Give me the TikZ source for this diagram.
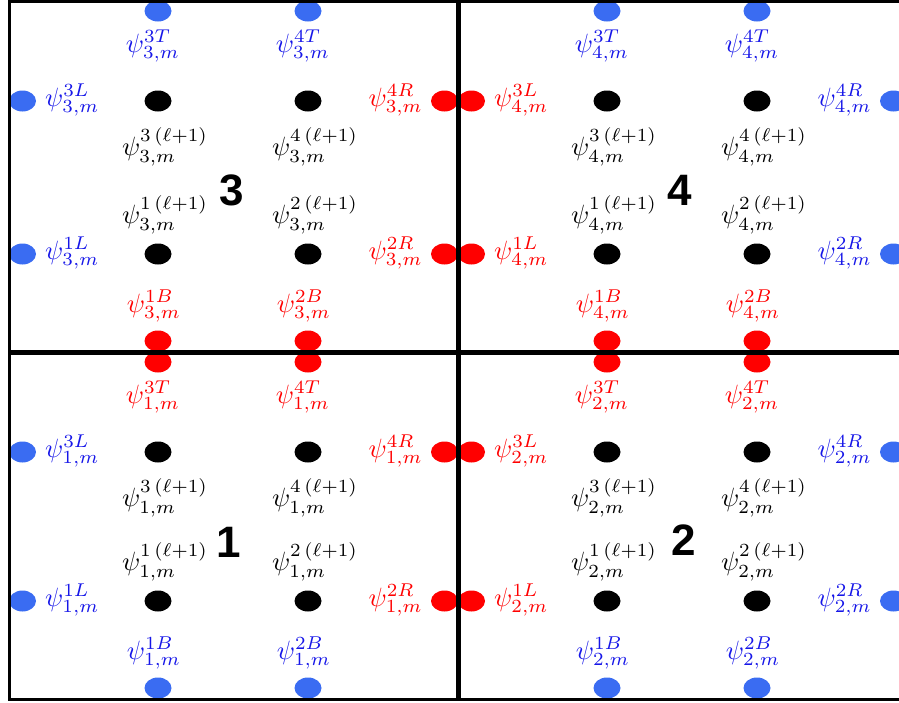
\documentclass[tikz,border=0pt]{standalone}
\usepackage{graphicx}
\usepackage{fontspec}
\newfontfamily\numfont{Liberation Sans}
\usetikzlibrary{shapes.geometric}
\definecolor{bdot}{RGB}{58,108,242}
\definecolor{btext}{RGB}{22,22,232}
\definecolor{rdot}{RGB}{255,0,0}
\definecolor{rtext}{RGB}{255,0,0}
\newcommand\lb[1]{\scalebox{2.65}{\fontsize{10}{12}\selectfont$#1$}}
\tikzset{
  pt/.style={ellipse, minimum width=27pt, minimum height=21pt, inner sep=0pt, draw=none},
  lbl/.style={inner sep=0pt},
  cellnum/.style={inner sep=0pt, font=\fontsize{44}{44}\selectfont\numfont\bfseries},
  frameline/.style={line width=3pt, black},
  midline/.style={line width=5pt, black}
}
% #1 id, #2 ox, #3 oy, #4 H, #5 T colour, #6 B colour, #7 L colour, #8 R colour
\newcommand\mycell[8]{%
  % boundary dots
  \node[pt, fill=#5dot] (t3#1) at (#2+149,#3+10) {};
  \node[pt, fill=#5dot] (t4#1) at (#2+299,#3+10) {};
  \node[pt, fill=#6dot] (b1#1) at (#2+149,#3+#4-11) {};
  \node[pt, fill=#6dot] (b2#1) at (#2+299,#3+#4-11) {};
  \node[pt, fill=#7dot] (l3#1) at (#2+13.5,#3+100) {};
  \node[pt, fill=#7dot] (l1#1) at (#2+13.5,#3+#4-98) {};
  \node[pt, fill=#8dot] (r4#1) at (#2+435.5,#3+100) {};
  \node[pt, fill=#8dot] (r2#1) at (#2+435.5,#3+#4-98) {};
  % interior dots
  \node[pt, fill=black] (i3#1) at (#2+149,#3+100) {};
  \node[pt, fill=black] (i4#1) at (#2+299,#3+100) {};
  \node[pt, fill=black] (i1#1) at (#2+149,#3+#4-98) {};
  \node[pt, fill=black] (i2#1) at (#2+299,#3+#4-98) {};
  % boundary labels
  \node[lbl, text=#5text] (Lt3#1) at (#2+144,#3+45) {\lb{\psi^{3T}_{#1,m}}};
  \node[lbl, text=#5text] (Lt4#1) at (#2+294,#3+45) {\lb{\psi^{4T}_{#1,m}}};
  \node[lbl, text=#6text] (Lb1#1) at (#2+145,#3+#4-46) {\lb{\psi^{1B}_{#1,m}}};
  \node[lbl, text=#6text] (Lb2#1) at (#2+295,#3+#4-46) {\lb{\psi^{2B}_{#1,m}}};
  \node[lbl, text=#7text, anchor=west] (Ll3#1) at (#2+36,#3+99) {\lb{\psi^{3L}_{#1,m}}};
  \node[lbl, text=#7text, anchor=west] (Ll1#1) at (#2+36,#3+#4-99) {\lb{\psi^{1L}_{#1,m}}};
  \node[lbl, text=#8text, anchor=east] (Lr4#1) at (#2+414,#3+99) {\lb{\psi^{4R}_{#1,m}}};
  \node[lbl, text=#8text, anchor=east] (Lr2#1) at (#2+414,#3+#4-99) {\lb{\psi^{2R}_{#1,m}}};
  % interior labels
  \node[lbl] (Li3#1) at (#2+156,#3+146) {\lb{\psi^{3\,(\ell+1)}_{#1,m}}};
  \node[lbl] (Li4#1) at (#2+306,#3+146) {\lb{\psi^{4\,(\ell+1)}_{#1,m}}};
  \node[lbl] (Li1#1) at (#2+156,#3+#4-137) {\lb{\psi^{1\,(\ell+1)}_{#1,m}}};
  \node[lbl] (Li2#1) at (#2+306,#3+#4-137) {\lb{\psi^{2\,(\ell+1)}_{#1,m}}};
}
\begin{document}
\begin{tikzpicture}[x=1pt, y=-1pt]
\useasboundingbox (0,0) rectangle (899,702);
\clip (0,0) rectangle (899,702);
\mycell{3}{9}{1}{351}{b}{r}{b}{r}
\mycell{4}{458}{1}{351}{b}{r}{r}{b}
\mycell{1}{9}{352}{347}{r}{b}{b}{r}
\mycell{2}{458}{352}{347}{r}{b}{r}{b}
\node[cellnum] (n3) at (232,190) {3};
\node[cellnum] (n4) at (680,190) {4};
\node[cellnum] (n1) at (229,542) {1};
\node[cellnum] (n2) at (684,540) {2};
\draw[frameline] (907,1) -- (9,1) -- (9,699) -- (907,699);
\draw[midline] (458,1) -- (458,699);
\draw[midline] (9,352) -- (907,352);
\end{tikzpicture}
\end{document}
